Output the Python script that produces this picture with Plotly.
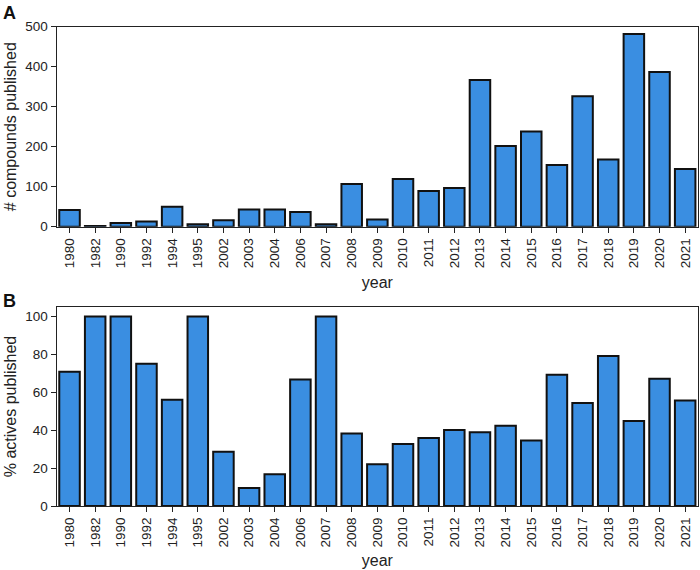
import plotly.graph_objects as go

years = ["1980", "1982", "1990", "1992", "1994", "1995", "2002", "2003", "2004",
         "2006", "2007", "2008", "2009", "2010", "2011", "2012", "2013", "2014",
         "2015", "2016", "2017", "2018", "2019", "2020", "2021"]
compounds = [42, 2, 9, 13, 50, 6, 16, 43, 43, 37, 6, 107, 18, 119, 89, 97,
             367, 202, 238, 154, 326, 168, 482, 387, 144]
pct_actives = [70.8, 100, 100, 75, 56, 100, 28.6, 9.5, 16.7, 66.7, 100, 38.2,
               22, 32.7, 35.9, 40.1, 38.9, 42.3, 34.5, 69.2, 54.4, 79.2, 44.9,
               67.1, 55.6]

BAR = "#3a8ee1"
FONT = "Liberation Sans, Arial, sans-serif"

fig = go.Figure()
fig.add_trace(go.Bar(x=years, y=compounds, xaxis="x", yaxis="y",
                     marker=dict(color=BAR, line=dict(color="#111111", width=2)),
                     showlegend=False))
fig.add_trace(go.Bar(x=years, y=pct_actives, xaxis="x2", yaxis="y2",
                     marker=dict(color=BAR, line=dict(color="#111111", width=2)),
                     showlegend=False))

xd = [56.7 / 700, 698 / 700]
axis_common = dict(showline=True, mirror=True, linecolor="#222222", linewidth=1.3,
                   ticks="outside", ticklen=5, tickwidth=1.2, tickcolor="#222222",
                   showgrid=False, zeroline=False, automargin=False,
                   tickfont=dict(family=FONT, size=13.5, color="#222222"))

fig.update_layout(
    width=700, height=570,
    margin=dict(l=0, r=0, t=0, b=0),
    plot_bgcolor="white", paper_bgcolor="white",
    bargap=0.2,
    font=dict(family=FONT, color="#222222"),
    xaxis=dict(domain=xd, anchor="y", tickangle=-90, range=[-0.5, len(years) - 0.5],
               title=dict(text="year", font=dict(size=16), standoff=9), **axis_common),
    yaxis=dict(domain=[1 - 226.7 / 570, 1 - 26.7 / 570], anchor="x", range=[0, 500],
               tickvals=[0, 100, 200, 300, 400, 500],
               title=dict(text="# compounds published", font=dict(size=16), standoff=4),
               **axis_common),
    xaxis2=dict(domain=xd, anchor="y2", tickangle=-90, range=[-0.5, len(years) - 0.5],
                title=dict(text="year", font=dict(size=16), standoff=8), **axis_common),
    yaxis2=dict(domain=[1 - 506 / 570, 1 - 307 / 570], anchor="x2", range=[0, 105],
                tickvals=[0, 20, 40, 60, 80, 100],
                title=dict(text="% actives published", font=dict(size=16), standoff=4),
                **axis_common),
    annotations=[
        dict(text="<b>A</b>", x=0.002, y=1 - 1 / 570, xref="paper", yref="paper",
             xanchor="left", yanchor="top", showarrow=False,
             font=dict(family=FONT, size=18, color="#111111")),
        dict(text="<b>B</b>", x=0.002, y=1 - 289 / 570, xref="paper", yref="paper",
             xanchor="left", yanchor="top", showarrow=False,
             font=dict(family=FONT, size=18, color="#111111")),
    ],
)

fig.write_html("out.html", config={"displayModeBar": False},
               post_script="document.body.style.margin='0';document.body.style.overflow='hidden';")
